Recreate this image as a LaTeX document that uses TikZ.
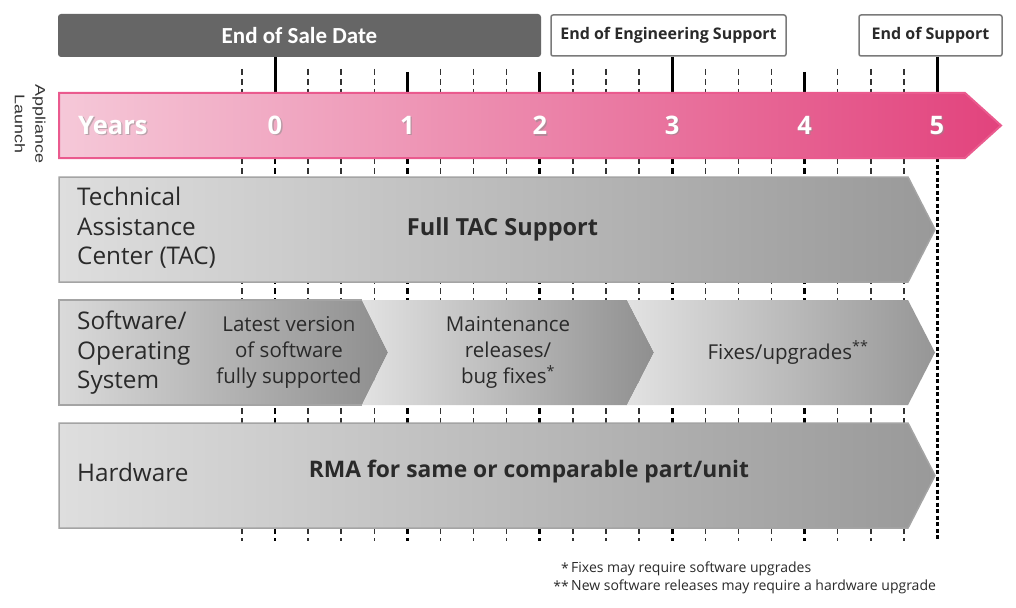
\documentclass[tikz,border=0pt]{standalone}
\usepackage{fontspec}
\setmainfont{Open Sans}
\newfontfamily\calib{Carlito}
\newfontfamily\arialf{Liberation Sans}
\definecolor{saleg}{HTML}{666666}
\definecolor{pinkL}{HTML}{F5C8D8}
\definecolor{pinkR}{HTML}{E2437D}
\definecolor{pinkB}{HTML}{EA5A8E}
\definecolor{rowL}{HTML}{DEDEDE}
\definecolor{rowR}{HTML}{999999}
\definecolor{rowB}{HTML}{A4A4A4}
\definecolor{txt}{HTML}{2A2A2A}
\definecolor{boxB}{HTML}{7A7A7A}
\definecolor{tickc}{HTML}{333333}
\definecolor{sw1L}{HTML}{DADADA}
\definecolor{sw1R}{HTML}{8E8E8E}
\definecolor{sw2L}{HTML}{E2E2E2}
\definecolor{sw2R}{HTML}{8F8F8F}
\definecolor{sw3R}{HTML}{969696}
\tikzset{
  qdash/.style={draw=tickc, line width=1.5pt, dash pattern=on 6pt off 4pt},
  ydash/.style={draw=black, line width=2.8pt, dash pattern=on 6pt off 4pt},
  ylast/.style={draw=black, line width=3pt, dash pattern=on 4pt off 2.5pt},
  ysolid/.style={draw=black, line width=3pt},
  rowshape/.style={left color=rowL, right color=rowR, draw=rowB, line width=1.5pt},
  label/.style={text=txt, inner sep=0pt, align=left, anchor=west, font=\fontsize{24.3}{29.5}\selectfont},
  midtxt/.style={text=txt, inner sep=0pt, align=center, font=\fontsize{20.5}{26}\selectfont},
  bigtxt/.style={text=txt, inner sep=0pt, font=\bfseries\fontsize{23.5}{26}\selectfont},
  yrtxt/.style={text=white, inner sep=0pt, font=\bfseries\fontsize{25.5}{28}\selectfont},
  yrshadow/.style={text=black!45, opacity=0.55, inner sep=0pt, font=\bfseries\fontsize{25.5}{28}\selectfont},
  whitebox/.style={draw=boxB, line width=1.5pt, fill=white, rounded corners=2pt, text=txt,
     font=\bfseries\fontsize{16}{20}\selectfont, minimum height=41pt, inner sep=0pt},
  foot/.style={text=txt, inner sep=0pt, font=\fontsize{14}{16}\selectfont},
  vlab/.style={rotate=-90, text=black!80, inner sep=0pt, font=\arialf\fontsize{14}{14}\selectfont}
}
\begin{document}
\begin{tikzpicture}[x=1pt,y=-1pt]
\useasboundingbox (0,0) rectangle (1016,607);
\fill[white] (0,0) rectangle (1016,607);

% top milestone boxes
\node[fill=saleg, rounded corners=3pt, minimum width=483pt, minimum height=43pt, inner sep=0pt,
      text=white, font=\calib\bfseries\fontsize{23}{24}\selectfont] (sale) at (299.5,35.5) {End of Sale Date};
\node[whitebox, minimum width=235pt] (eng) at (668.5,35.5) {End of Engineering Support};
\node[whitebox, minimum width=143pt] (eos) at (930.5,35.5) {End of Support};

% tick lines
\foreach \k in {-1,...,20}{
  \pgfmathsetmacro\xx{275+33.1*\k}
  \pgfmathtruncatemacro\isyear{(mod(\k+4,4)==0) ? 1 : 0}
  \ifnum\isyear=1
    \ifnum\k=20
      \draw[ylast] (\xx,158) -- (\xx,541);
    \else
      \draw[ydash] (\xx,158) -- (\xx,541);
    \fi
  \else
    \draw[qdash] (\xx,69) -- (\xx,93);
    \draw[qdash] (\xx,158) -- (\xx,541);
  \fi
}
% solid year ticks above the bar
\coordinate (bar0) at (275,93);
\coordinate (bar3) at (672.2,93);
\coordinate (bar5) at (937,93);
\draw[ysolid] (sale.south -| bar0) -- (bar0);
\draw[ysolid] (eng.south -| bar3) -- (bar3);
\draw[ysolid] (eos.south -| bar5) -- (bar5);
\foreach \k in {4,8,16}{
  \pgfmathsetmacro\xx{275+33.1*\k}
  \draw[ysolid] (\xx,72) -- (\xx,93);
}

% years bar
\path[left color=pinkL, right color=pinkR, draw=pinkB, line width=2pt]
  (59,93) -- (965,93) -- (1001,125.5) -- (965,158) -- (59,158) -- cycle;
\node[yrshadow, anchor=west] at (79.3,126.8) {Years};
\node[yrtxt, anchor=west] (years) at (78,125.5) {Years};
\foreach \n in {0,...,5}{
  \pgfmathsetmacro\xx{275+132.4*\n}
  \node[yrshadow] at (\xx+1.3,126.8) {\n};
  \node[yrtxt] (y\n) at (\xx,125.5) {\n};
}

% Appliance Launch
\node[vlab] (appl) at (39,124) {\scalebox{1.28}[1]{Appliance}};
\node[vlab] (laun) at (20,124) {\scalebox{1.28}[1]{Launch}};

% TAC row
\path[rowshape] (59,177) -- (908,177) -- (935,229.5) -- (908,282) -- (59,282) -- cycle;
\node[label] (tac) at (77,228) {Technical\\Assistance\\Center (TAC)};
\node[bigtxt] (full) at (502.5,229) {Full TAC Support};

% Software row
\path[left color=sw1L, right color=sw1R]
  (59,300) -- (362,300) -- (388,352.5) -- (362,405) -- (59,405) -- cycle;
\path[left color=sw2L, right color=sw2R]
  (362,300) -- (627,300) -- (654,352.5) -- (627,405) -- (362,405) -- (388,352.5) -- cycle;
\path[left color=sw2L, right color=sw3R]
  (627,300) -- (908,300) -- (935,352.5) -- (908,405) -- (627,405) -- (654,352.5) -- cycle;
\draw[draw=rowB, line width=1.5pt] (362,300) -- (59,300) -- (59,405) -- (362,405);
\node[label] (sw) at (77,353) {Software/\\Operating\\System};
\node[midtxt] (latest) at (289,352.5) {Latest version\\of software\\fully supported};
\node[midtxt] (maint) at (508,352.5) {Maintenance\\releases/\\bug fixes\textsuperscript{*}};
\node[midtxt] (fixes) at (788,352.5) {Fixes/upgrades\textsuperscript{**}};

% Hardware row
\path[rowshape] (59,423) -- (908,423) -- (935,475.5) -- (908,528) -- (59,528) -- cycle;
\node[label] (hw) at (77,472) {Hardware};
\node[bigtxt, font=\bfseries\fontsize{22.8}{26}\selectfont] (rma) at (529,472) {RMA for same or comparable part/unit};

% footnotes
\node[foot, anchor=east] (s1) at (569,568) {*};
\node[foot, anchor=west] (f1) at (571,569) {Fixes may require software upgrades};
\node[foot, anchor=east] (s2) at (569,586) {**};
\node[foot, anchor=west] (f2) at (571,587) {New software releases may require a hardware upgrade};
\end{tikzpicture}
\end{document}
